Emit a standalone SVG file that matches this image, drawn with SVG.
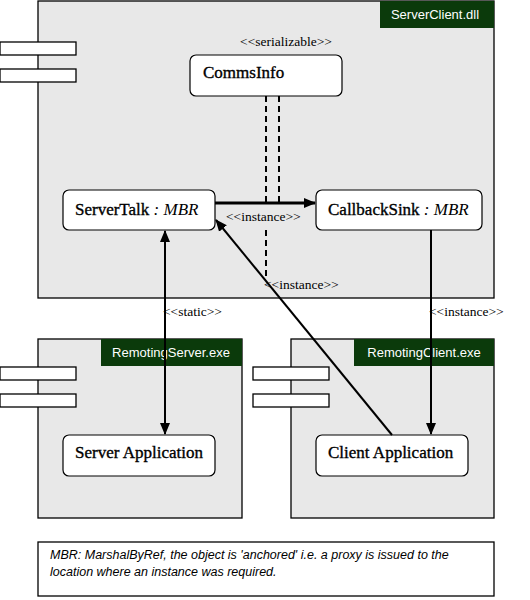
<svg xmlns="http://www.w3.org/2000/svg" width="530" height="600" viewBox="0 0 530 600">
<style>
.comp{fill:#e8e8e8;stroke:#000;stroke-width:1.3}
.tab{fill:#0b3a0b;stroke:none}
.tabtxt{font-family:"Liberation Sans",Arial,sans-serif;font-size:13px;fill:#fff;text-anchor:middle}
.port{fill:#fff;stroke:#000;stroke-width:1.3}
.obj{fill:#fff;stroke:#000;stroke-width:1.2}
.name{font-family:"Liberation Serif","Times New Roman",serif;font-size:17px;fill:#000;stroke:#000;stroke-width:0.35}
.it{font-style:italic;stroke-width:0}
.lbl{font-family:"Liberation Serif","Times New Roman",serif;font-size:13.5px;fill:#000}
.note{font-family:"Liberation Sans",Arial,sans-serif;font-size:12.5px;font-style:italic;fill:#000}
.dash{stroke:#000;stroke-width:2;stroke-dasharray:6,4;fill:none}
.line{stroke:#000;stroke-width:2;fill:none}
.thick{stroke:#000;stroke-width:3;fill:none}
</style>
<defs>
<marker id="ah" markerUnits="userSpaceOnUse" markerWidth="12" markerHeight="12" viewBox="0 0 12 12" refX="11" refY="6" orient="auto-start-reverse">
<path d="M0,1 L12,6 L0,11 Z" fill="#000"/>
</marker>
</defs>
<rect width="530" height="600" fill="#fff"/>

<g id="ServerClient">
<rect class="comp" x="38" y="1" width="456" height="297"/>
<rect class="tab" x="380" y="1" width="114" height="27"/>
<text class="tabtxt" x="435" y="19">ServerClient.dll</text>
<rect class="port" x="0" y="42" width="76" height="13"/>
<rect class="port" x="0" y="69" width="76" height="13"/>
</g>

<g id="RemotingServer">
<rect class="comp" x="38" y="339" width="204" height="179"/>
<rect class="tab" x="101" y="339" width="141" height="27"/>
<text class="tabtxt" x="171" y="357">RemotingServer.exe</text>
<rect class="port" x="0" y="367" width="76" height="13"/>
<rect class="port" x="0" y="394" width="76" height="13"/>
</g>

<g id="RemotingClient">
<rect class="comp" x="291" y="339" width="203" height="179"/>
<rect class="tab" x="354" y="339" width="140" height="27"/>
<text class="tabtxt" x="424" y="357">RemotingClient.exe</text>
<rect class="port" x="253" y="367" width="76" height="13"/>
<rect class="port" x="253" y="394" width="76" height="13"/>
</g>

<g id="CommsInfo">
<text class="lbl" x="286" y="46" text-anchor="middle">&lt;&lt;serializable&gt;&gt;</text>
<rect class="obj" x="190" y="55" width="152" height="41" rx="6"/>
<text class="name" x="203" y="78">CommsInfo</text>
</g>

<g id="ServerTalk">
<rect class="obj" x="63" y="190" width="152" height="40" rx="6"/>
<text class="name" x="75" y="215">ServerTalk <tspan class="it">: MBR</tspan></text>
</g>

<g id="CallbackSink">
<rect class="obj" x="316" y="190" width="166" height="40" rx="6"/>
<text class="name" x="328" y="215">CallbackSink <tspan class="it">: MBR</tspan></text>
</g>

<g id="ServerApplication">
<rect class="obj" x="63" y="435" width="152" height="41" rx="6"/>
<text class="name" x="75" y="458">Server Application</text>
</g>

<g id="ClientApplication">
<rect class="obj" x="316" y="435" width="152" height="41" rx="6"/>
<text class="name" x="328" y="458">Client Application</text>
</g>

<g id="connectors">
<line class="dash" x1="266" y1="96" x2="266" y2="202"/>
<line class="dash" x1="279" y1="96" x2="279" y2="202"/>
<line class="dash" x1="266" y1="230" x2="266" y2="278"/>
<line class="thick" x1="215" y1="203" x2="315" y2="203" marker-end="url(#ah)"/>
<text class="lbl" x="226" y="221">&lt;&lt;instance&gt;&gt;</text>
<text class="lbl" x="264" y="289">&lt;&lt;instance&gt;&gt;</text>
<line class="line" x1="165" y1="231" x2="165" y2="434" marker-start="url(#ah)" marker-end="url(#ah)"/>
<text class="lbl" x="163" y="316">&lt;&lt;static&gt;&gt;</text>
<line class="line" x1="392" y1="435" x2="216" y2="220" marker-end="url(#ah)"/>
<line class="line" x1="431" y1="230" x2="431" y2="434" marker-end="url(#ah)"/>
<text class="lbl" x="429" y="316">&lt;&lt;instance&gt;&gt;</text>
</g>

<g id="note">
<rect x="38" y="542" width="456" height="54" fill="#fff" stroke="#000" stroke-width="1.3"/>
<text class="note" x="50" y="559">MBR: MarshalByRef, the object is 'anchored' i.e. a proxy is issued to the</text>
<text class="note" x="50" y="576">location where an instance was required.</text>
</g>
</svg>
